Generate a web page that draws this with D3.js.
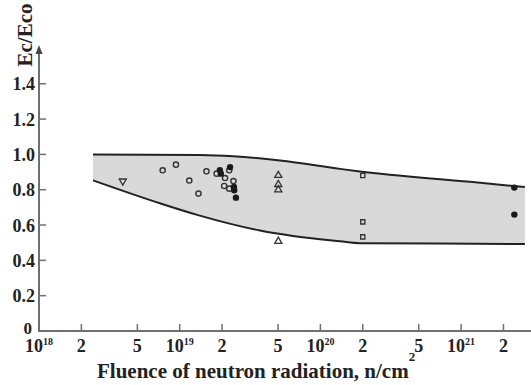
<!DOCTYPE html>
<html><head><meta charset="utf-8">
<script src="https://cdn.jsdelivr.net/npm/d3@7"></script>
<style>body{margin:0;background:#fff}svg{display:block}</style>
</head><body>
<svg id="c" width="531" height="385"></svg>
<script>
// ---- data ----
const xTicks = [1e18, 2e18, 5e18, 1e19, 2e19, 5e19, 1e20, 2e20, 5e20, 1e21, 2e21];
const xTickMant = ["10", "2", "5", "10", "2", "5", "10", "2", "5", "10", "2"];
const xTickExp = ["18", "", "", "19", "", "", "20", "", "", "21", ""];
const yTicks = [0, 0.2, 0.4, 0.6, 0.8, 1.0, 1.2, 1.4];
const yTickLabels = ["0", "0.2", "0.4", "0.6", "0.8", "1.0", "1.2", "1.4"];
const upperF = [2.42e18, 1.39e19, 2.4e19, 5.16e19, 1.38e20, 1.91e20, 1.16e21, 2.84e21];
const upperV = [1.0, 0.997, 0.99, 0.966, 0.918, 0.903, 0.845, 0.815];
const lowerF = [2.42e18, 7.24e18, 1.35e19, 3.72e19, 6.39e19, 1.38e20, 1.91e20, 7.08e20, 2.84e21];
const lowerV = [0.853, 0.723, 0.656, 0.569, 0.538, 0.508, 0.497, 0.495, 0.492];
const openCircF = [7.57e18, 9.4e18, 1.17e19, 1.36e19, 1.55e19, 1.83e19, 2.10e19, 2.25e19, 2.41e19, 2.07e19, 2.25e19];
const openCircV = [0.91, 0.942, 0.852, 0.778, 0.904, 0.891, 0.866, 0.910, 0.849, 0.821, 0.806];
const fillCircF = [1.93e19, 1.96e19, 2.28e19, 2.43e19, 2.44e19, 2.51e19, 2.39e21, 2.39e21];
const fillCircV = [0.910, 0.891, 0.928, 0.815, 0.797, 0.755, 0.812, 0.659];
const triUpF = [5.02e19, 5.02e19, 5.02e19, 5.02e19];
const triUpV = [0.881, 0.83, 0.80, 0.508];
const triDownF = [3.94e18];
const triDownV = [0.849];
const squareF = [2.0e20, 2.0e20, 2.0e20];
const squareV = [0.881, 0.618, 0.533];

// ---- layout ----
const svg = d3.select("#c");
const x0 = 39, y0 = 331;
const x = d3.scaleLog().domain([1e18, 1e21]).range([x0, x0 + 3 * 140.7]);
const y = d3.scaleLinear().domain([0, 1]).range([y0, y0 - 176.6]);
const font = "'Liberation Serif','Times New Roman',serif";
const axisCol = "#707070";

// band
const upper = upperF.map((f, i) => [f, upperV[i]]);
const lower = lowerF.map((f, i) => [f, lowerV[i]]);
const line = d3.line().x(d => x(d[0])).y(d => y(d[1])).curve(d3.curveMonotoneX);
const upPath = line(upper);
const loPathRev = line(lower.slice().reverse());
svg.append("path")
  .attr("d", upPath + "L" + loPathRev.slice(1) + "Z")
  .attr("fill", "#d9d9d9").attr("stroke", "none");
svg.append("path").attr("d", upPath).attr("fill", "none").attr("stroke", "#222").attr("stroke-width", 2);
svg.append("path").attr("d", line(lower)).attr("fill", "none").attr("stroke", "#222").attr("stroke-width", 2);

// axes
const xEnd = 531;
svg.append("line").attr("x1", x0).attr("x2", xEnd).attr("y1", y0).attr("y2", y0)
  .attr("stroke", axisCol).attr("stroke-width", 2);
svg.append("line").attr("x1", x0).attr("x2", x0).attr("y1", y0 + 1).attr("y2", 52)
  .attr("stroke", axisCol).attr("stroke-width", 2);
svg.append("path").attr("d", `M${x0 - 3.5},54 L${x0},45 L${x0 + 3.5},54 Z`).attr("fill", "#444");

// y ticks
yTicks.forEach((v, i) => {
  if (v > 0) svg.append("line").attr("x1", x0).attr("x2", x0 + 7).attr("y1", y(v)).attr("y2", y(v))
    .attr("stroke", axisCol).attr("stroke-width", 1.5);
  svg.append("text").attr("x", i === 0 ? 32 : 35).attr("y", i === 0 ? y(v) - 3 : y(v)).attr("dy", "0.36em")
    .attr("text-anchor", "end").attr("font-family", font).attr("font-weight", "bold")
    .attr("font-size", i === 0 ? 17 : 18).attr("fill", "#222").text(yTickLabels[i]);
});

// x ticks
xTicks.forEach((f, i) => {
  const px = x(f);
  if (i > 0) svg.append("line").attr("x1", px).attr("x2", px).attr("y1", y0).attr("y2", y0 - 7)
    .attr("stroke", axisCol).attr("stroke-width", 1.5);
  const t = svg.append("text").attr("x", px).attr("y", 352).attr("text-anchor", "middle")
    .attr("font-family", font).attr("font-weight", "bold").attr("font-size", 18).attr("fill", "#222");
  t.append("tspan").text(xTickMant[i]);
  if (xTickExp[i]) t.append("tspan").attr("font-size", 10).attr("dy", -7).text(xTickExp[i]);
});

// titles
const xt = svg.append("text").attr("x", 97).attr("y", 378)
  .attr("font-family", font).attr("font-weight", "bold").attr("font-size", 21).attr("fill", "#222");
xt.append("tspan").text("Fluence of neutron radiation, n/cm");
xt.append("tspan").attr("font-size", 13).attr("dy", -17).text("2");

svg.append("text").attr("transform", "translate(32,35) rotate(-90)").attr("text-anchor", "middle")
  .attr("font-family", font).attr("font-weight", "bold").attr("font-size", 21).attr("fill", "#222")
  .text("Ec/Eco");

// markers
const mk = "#333";
const g = svg.append("g");
openCircF.forEach((f, i) => g.append("circle").attr("cx", x(f)).attr("cy", y(openCircV[i])).attr("r", 2.6)
  .attr("fill", "none").attr("stroke", mk).attr("stroke-width", 1.4));
fillCircF.forEach((f, i) => g.append("circle").attr("cx", x(f)).attr("cy", y(fillCircV[i])).attr("r", 3.2)
  .attr("fill", "#1a1a1a"));
const tri = d3.symbol().type(d3.symbolTriangle).size(22);
triUpF.forEach((f, i) => g.append("path").attr("d", tri())
  .attr("transform", `translate(${x(f)},${y(triUpV[i])})`)
  .attr("fill", "none").attr("stroke", mk).attr("stroke-width", 1.3));
triDownF.forEach((f, i) => g.append("path").attr("d", tri())
  .attr("transform", `translate(${x(f)},${y(triDownV[i])}) rotate(180)`)
  .attr("fill", "none").attr("stroke", mk).attr("stroke-width", 1.3));
const sq = d3.symbol().type(d3.symbolSquare).size(18);
squareF.forEach((f, i) => g.append("path").attr("d", sq())
  .attr("transform", `translate(${x(f)},${y(squareV[i])})`)
  .attr("fill", "none").attr("stroke", mk).attr("stroke-width", 1.3));
</script>
</body></html>
